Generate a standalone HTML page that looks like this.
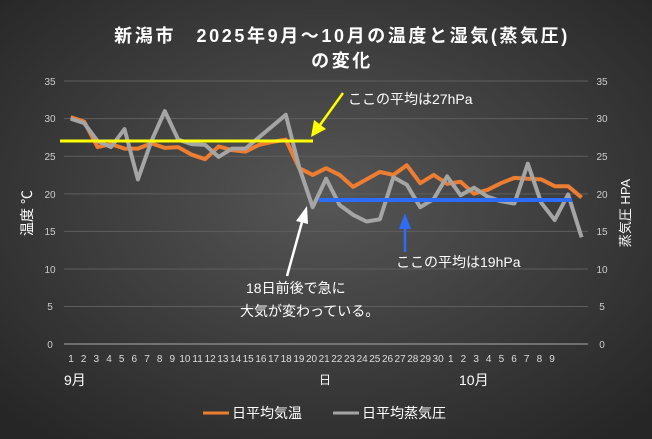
<!DOCTYPE html>
<html><head><meta charset="utf-8"><style>
html,body{margin:0;padding:0;width:652px;height:439px;overflow:hidden;background:#333}
svg{display:block;font-family:"Liberation Sans","Noto Sans CJK JP",sans-serif}
</style></head><body>
<svg width="652" height="439" viewBox="0 0 652 439" xmlns="http://www.w3.org/2000/svg">
<defs>
<radialGradient id="bg" cx="50%" cy="45%" r="70%">
<stop offset="0" stop-color="#565656"/><stop offset="1" stop-color="#262626"/>
</radialGradient>
</defs>
<rect width="652" height="439" fill="url(#bg)"/>
<g fill="#fff" font-size="18" text-anchor="middle" letter-spacing="2.6" font-weight="bold">
<text x="342" y="42">新潟市　2025年9月～10月の温度と湿気(蒸気圧)</text>
<text x="342" y="67">の変化</text>
</g>
<g stroke="#5e5e5e" stroke-width="1">
<line x1="64" y1="81" x2="588" y2="81"/><line x1="64" y1="118.6" x2="588" y2="118.6"/>
<line x1="64" y1="156.3" x2="588" y2="156.3"/><line x1="64" y1="193.9" x2="588" y2="193.9"/>
<line x1="64" y1="231.4" x2="588" y2="231.4"/><line x1="64" y1="269" x2="588" y2="269"/>
<line x1="64" y1="306.5" x2="588" y2="306.5"/>
</g>
<line x1="64" y1="344" x2="588" y2="344" stroke="#aaa" stroke-width="1"/>
<g fill="#ccc" font-size="10" text-anchor="middle">
<text x="50" y="85">35</text><text x="50" y="122">30</text><text x="50" y="160">25</text><text x="50" y="198">20</text><text x="50" y="235">15</text><text x="50" y="273">10</text><text x="50" y="310">5</text><text x="50" y="348">0</text>
<text x="602" y="85">35</text><text x="602" y="122">30</text><text x="602" y="160">25</text><text x="602" y="198">20</text><text x="602" y="235">15</text><text x="602" y="273">10</text><text x="602" y="310">5</text><text x="602" y="348">0</text>
</g>
<g fill="#ddd" font-size="10" text-anchor="middle">
<text x="71" y="362">1</text><text x="83.7" y="362">2</text><text x="96.3" y="362">3</text><text x="109" y="362">4</text><text x="121.6" y="362">5</text><text x="134.3" y="362">6</text><text x="147" y="362">7</text><text x="159.6" y="362">8</text><text x="172.3" y="362">9</text><text x="184.9" y="362">10</text><text x="197.6" y="362">11</text><text x="210.2" y="362">12</text><text x="222.9" y="362">13</text><text x="235.6" y="362">14</text><text x="248.2" y="362">15</text><text x="260.9" y="362">16</text><text x="273.5" y="362">17</text><text x="286.2" y="362">18</text><text x="298.9" y="362">19</text><text x="311.5" y="362">20</text><text x="324.2" y="362">21</text><text x="336.8" y="362">22</text><text x="349.5" y="362">23</text><text x="362.2" y="362">24</text><text x="374.8" y="362">25</text><text x="387.5" y="362">26</text><text x="400.1" y="362">27</text><text x="412.8" y="362">28</text><text x="425.4" y="362">29</text><text x="438.1" y="362">30</text><text x="450.8" y="362">1</text><text x="463.4" y="362">2</text><text x="476.1" y="362">3</text><text x="488.7" y="362">4</text><text x="501.4" y="362">5</text><text x="514" y="362">6</text><text x="526.7" y="362">7</text><text x="539.4" y="362">8</text><text x="552" y="362">9</text>
</g>
<g fill="#fff" font-size="14">
<text x="64" y="385">9月</text><text x="319" y="384" font-size="12">日</text><text x="459" y="385">10月</text>
</g>
<text transform="translate(32,213) rotate(-90)" fill="#fff" font-size="14" text-anchor="middle">温度 ℃</text>
<text transform="translate(630,213) rotate(-90)" fill="#fff" font-size="13" text-anchor="middle">蒸気圧 HPA</text>
<polyline fill="none" stroke="#ed7d31" stroke-width="4" stroke-linejoin="round" points="70.7,117.1 84.1,121.6 97.6,147.1 111,144.1 124.5,148.6 137.9,148.6 151.4,143.4 164.8,147.9 178.2,147.1 191.7,154.7 205.1,159.2 218.6,146.4 232,150.1 245.5,151.6 258.9,144.9 272.4,141.9 285.8,139.6 299.2,168.2 312.7,174.9 326.1,168.2 339.6,174.9 353,186.9 366.5,179.4 379.9,171.9 393.4,174.9 406.8,165.2 420.2,183.2 433.7,174.9 447.1,183.9 460.6,181.7 474,193.7 487.5,189.9 500.9,183.2 514.4,177.9 527.8,178.7 541.2,179.4 554.7,186.2 568.1,186.2 581.6,197.5"/>
<polyline fill="none" stroke="#a5a5a5" stroke-width="4" stroke-linejoin="round" points="70.7,118.6 84.1,123.1 97.6,141.1 111,147.1 124.5,129.1 137.9,179.4 151.4,141.1 164.8,111.1 178.2,139.6 191.7,144.1 205.1,144.9 218.6,156.9 232,148.6 245.5,148.6 258.9,137.4 272.4,126.1 285.8,114.8 299.2,167.4 312.7,207.2 326.1,178.7 339.6,205 353,214.8 366.5,221.5 379.9,219.3 393.4,177.2 406.8,184.7 420.2,207.2 433.7,199 447.1,176.4 460.6,195.2 474,187.7 487.5,196.7 500.9,201.2 514.4,203.5 527.8,163.7 541.2,202.7 554.7,220 568.1,194.5 581.6,237.3"/>
<line x1="60" y1="141" x2="313" y2="141" stroke="#ffff00" stroke-width="3"/>
<line x1="319" y1="200" x2="572" y2="200" stroke="#2e6cf6" stroke-width="4"/>
<line x1="343" y1="93" x2="320" y2="125" stroke="#ffff00" stroke-width="2.5"/>
<polygon points="311,137 314,120 326,129" fill="#ffff00"/>
<text x="348" y="104" fill="#fff" font-size="14">ここの平均は27hPa</text>
<line x1="405" y1="252" x2="405" y2="226" stroke="#2e6cf6" stroke-width="2.5"/>
<polygon points="405,213 399,229 411,229" fill="#2e6cf6"/>
<text x="396" y="267" fill="#fff" font-size="14">ここの平均は19hPa</text>
<line x1="287" y1="276" x2="302" y2="222" stroke="#fff" stroke-width="2.5"/>
<polygon points="307,206 296,221 308,224" fill="#fff"/>
<text x="246" y="293" fill="#fff" font-size="14">18日前後で急に</text>
<text x="240" y="316" fill="#fff" font-size="14">大気が変わっている。</text>
<line x1="203" y1="413" x2="229" y2="413" stroke="#ed7d31" stroke-width="3"/>
<text x="232" y="418" fill="#fff" font-size="14">日平均気温</text>
<line x1="333" y1="413" x2="359" y2="413" stroke="#a5a5a5" stroke-width="3"/>
<text x="362" y="418" fill="#fff" font-size="14">日平均蒸気圧</text>
</svg>
</body></html>
